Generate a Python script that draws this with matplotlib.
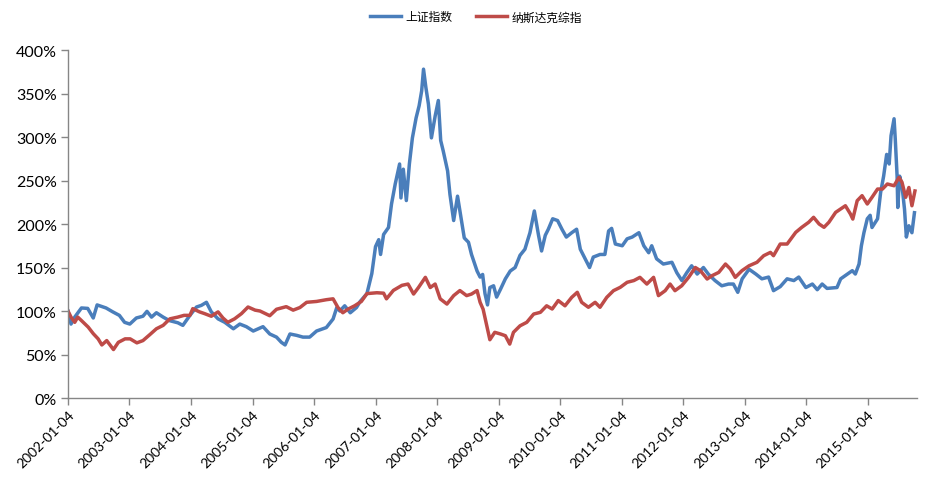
import matplotlib
matplotlib.use('Agg')
import matplotlib.pyplot as plt
from matplotlib.ticker import FuncFormatter, MultipleLocator
import pandas as pd

plt.rcParams['font.family'] = ['Lato', 'Noto Sans CJK SC', 'DejaVu Sans']

# 上证指数, values in % of 2002-01-04 level
sse_dates = [
    '2002-01-04', '2002-01-22', '2002-02-13', '2002-03-25', '2002-05-01', '2002-06-03',
    '2002-06-26', '2002-08-18', '2002-09-27', '2002-11-05', '2002-12-06', '2003-01-06',
    '2003-02-14', '2003-03-25', '2003-04-18', '2003-05-15', '2003-06-13', '2003-07-23',
    '2003-08-29', '2003-10-18', '2003-11-17', '2003-12-29', '2004-02-06', '2004-03-06',
    '2004-04-05', '2004-05-04', '2004-06-13', '2004-07-23', '2004-09-12', '2004-10-20',
    '2004-11-28', '2005-01-08', '2005-03-07', '2005-04-16', '2005-05-26', '2005-06-24',
    '2005-07-16', '2005-08-14', '2005-09-23', '2005-10-30', '2005-12-09', '2006-01-19',
    '2006-03-18', '2006-04-27', '2006-05-19', '2006-06-06', '2006-07-05', '2006-08-07',
    '2006-09-13', '2006-10-05', '2006-11-14', '2006-12-13', '2007-01-04', '2007-01-23',
    '2007-02-03', '2007-02-21', '2007-03-22', '2007-04-09', '2007-05-01', '2007-05-27',
    '2007-06-04', '2007-06-18', '2007-07-06', '2007-07-24', '2007-08-11', '2007-09-02',
    '2007-09-20', '2007-10-05', '2007-10-16', '2007-10-30', '2007-11-14', '2007-12-02',
    '2007-12-24', '2008-01-12', '2008-01-26', '2008-02-10', '2008-03-07', '2008-03-21',
    '2008-04-12', '2008-05-05', '2008-05-19', '2008-06-14', '2008-07-09', '2008-07-27',
    '2008-08-29', '2008-09-16', '2008-10-01', '2008-10-15', '2008-10-30', '2008-11-13',
    '2008-12-05', '2008-12-23', '2009-01-15', '2009-02-13', '2009-03-14', '2009-04-12',
    '2009-05-11', '2009-06-09', '2009-07-09', '2009-08-04', '2009-08-29', '2009-09-16',
    '2009-10-08', '2009-10-26', '2009-11-21', '2009-12-20', '2010-01-15', '2010-02-10',
    '2010-03-14', '2010-04-12', '2010-05-04', '2010-06-02', '2010-06-28', '2010-07-20',
    '2010-08-29', '2010-09-27', '2010-10-19', '2010-11-06', '2010-11-28', '2011-01-08',
    '2011-02-06', '2011-03-08', '2011-04-17', '2011-05-16', '2011-06-14', '2011-07-02',
    '2011-07-31', '2011-09-09', '2011-10-30', '2011-11-28', '2011-12-28', '2012-01-26',
    '2012-02-24', '2012-03-28', '2012-05-04', '2012-06-02', '2012-07-12', '2012-08-21',
    '2012-09-30', '2012-10-29', '2012-11-24', '2012-12-20', '2013-01-30', '2013-03-11',
    '2013-04-16', '2013-05-26', '2013-06-24', '2013-08-03', '2013-09-13', '2013-10-23',
    '2013-11-21', '2014-01-02', '2014-02-10', '2014-03-11', '2014-04-09', '2014-05-08',
    '2014-07-06', '2014-07-28', '2014-09-06', '2014-10-05', '2014-10-23', '2014-11-14',
    '2014-11-28', '2014-12-13', '2015-01-02', '2015-01-19', '2015-01-30', '2015-03-04',
    '2015-03-22', '2015-04-09', '2015-04-27', '2015-05-12', '2015-05-23', '2015-06-10',
    '2015-06-17', '2015-06-28', '2015-07-02', '2015-07-13', '2015-07-27', '2015-08-11',
    '2015-08-22', '2015-09-06', '2015-09-24', '2015-10-09',
]
sse_vals = [
    100, 85, 93, 103.5, 103, 92,
    107, 103.5, 99, 95, 87, 85,
    92, 94, 99.6, 93, 98, 93,
    89, 86.5, 83.5, 95, 104.6, 106.5,
    110, 99, 91, 87, 79.6, 85,
    82, 77, 82, 73.6, 70, 64,
    61, 73.6, 72, 70, 70, 77,
    81, 90.8, 104, 100, 106, 98,
    104, 111, 120, 143, 174, 182,
    165, 188, 196, 223, 246, 269,
    230, 263, 227, 269, 299, 322,
    336, 353, 378, 357, 338, 299,
    324, 342, 296, 284, 261, 234,
    204, 232, 215, 184, 179, 165,
    146, 139, 142, 120, 107, 127,
    129, 116, 125, 137, 146, 150,
    164, 171, 190, 215, 187, 169,
    187, 194, 206, 204, 194, 185,
    190, 194, 171, 160, 150, 162,
    165, 165, 192, 195, 177, 175,
    183, 185, 190, 175, 167, 175,
    160, 154, 156, 144, 135, 144,
    152, 142.5, 150, 142.5, 135, 129,
    131, 131, 121.5, 137, 148, 142.5,
    137, 139, 123.4, 128, 137, 135,
    139, 127, 131, 124.5, 131, 126,
    127, 137, 142.5, 146.4, 142.5, 154,
    175, 190, 206, 210, 196, 206,
    236, 255, 280, 269, 301.5, 321,
    298, 255, 219, 255, 244, 217,
    185, 198, 190, 213,
]

# 纳斯达克综指, values in % of 2002-01-04 level
nas_dates = [
    '2002-01-04', '2002-01-22', '2002-02-13', '2002-03-03', '2002-03-25', '2002-05-04',
    '2002-06-03', '2002-07-02', '2002-07-24', '2002-08-22', '2002-10-01', '2002-10-30',
    '2002-12-09', '2003-01-08', '2003-02-17', '2003-03-25', '2003-05-04', '2003-06-13',
    '2003-07-23', '2003-09-01', '2003-10-18', '2003-11-24', '2003-12-29', '2004-01-15',
    '2004-02-24', '2004-03-25', '2004-05-04', '2004-06-13', '2004-07-12', '2004-08-10',
    '2004-09-19', '2004-10-30', '2004-12-08', '2005-01-19', '2005-02-17', '2005-04-16',
    '2005-05-26', '2005-07-23', '2005-09-02', '2005-10-12', '2005-11-21', '2006-01-19',
    '2006-03-18', '2006-04-27', '2006-05-26', '2006-06-24', '2006-07-23', '2006-09-02',
    '2006-10-12', '2006-11-14', '2007-01-12', '2007-02-21', '2007-03-10', '2007-04-20',
    '2007-06-10', '2007-07-16', '2007-08-18', '2007-09-16', '2007-10-27', '2007-11-25',
    '2007-12-24', '2008-01-23', '2008-03-03', '2008-04-12', '2008-05-19', '2008-06-28',
    '2008-07-27', '2008-08-29', '2008-09-16', '2008-10-04', '2008-10-26', '2008-11-13',
    '2008-12-12', '2009-01-15', '2009-02-13', '2009-03-11', '2009-04-02', '2009-05-11',
    '2009-06-20', '2009-07-31', '2009-09-09', '2009-10-16', '2009-11-18', '2009-12-24',
    '2010-02-02', '2010-03-14', '2010-04-16', '2010-05-12', '2010-06-21', '2010-07-31',
    '2010-08-29', '2010-10-08', '2010-11-17', '2010-12-27', '2011-02-06', '2011-03-18',
    '2011-04-23', '2011-06-03', '2011-07-13', '2011-08-11', '2011-09-20', '2011-10-19',
    '2011-11-17', '2011-12-27', '2012-02-06', '2012-03-17', '2012-04-16', '2012-05-26',
    '2012-06-24', '2012-08-03', '2012-09-12', '2012-10-11', '2012-11-09', '2012-12-19',
    '2013-01-30', '2013-03-18', '2013-04-27', '2013-06-06', '2013-06-24', '2013-08-03',
    '2013-09-13', '2013-10-05', '2013-11-03', '2013-12-09', '2014-01-19', '2014-02-17',
    '2014-03-22', '2014-04-20', '2014-05-19', '2014-06-28', '2014-07-27', '2014-08-25',
    '2014-09-24', '2014-10-08', '2014-11-03', '2014-12-02', '2015-01-02', '2015-01-30',
    '2015-03-04', '2015-04-02', '2015-05-01', '2015-06-10', '2015-07-09', '2015-07-27',
    '2015-08-18', '2015-09-06', '2015-09-24', '2015-10-12',
]
nas_vals = [
    100, 93, 87, 93, 89, 81.5,
    74, 68, 61, 66, 55.7, 64,
    68, 68, 63.4, 66, 72.7, 79.6,
    83.5, 91, 93, 95, 95, 102.7,
    99, 97, 94, 99, 92, 87,
    91, 97, 104.6, 101, 100, 94.6,
    102, 105, 101, 104, 110, 111,
    113, 114, 104, 98, 102, 106,
    111, 120, 121, 120.5, 114, 123.7,
    129.5, 131, 119.5, 127, 138.7, 127,
    131, 114, 108, 117.7, 123.5, 117.7,
    119.5, 123.5, 110, 102, 83, 67,
    75.5, 73.6, 71.6, 62, 75.5, 83,
    87, 96.5, 98.5, 106, 102.3, 112,
    106, 115.7, 121.5, 110, 104.3, 110,
    104.3, 115.7, 123.4, 127.2, 133, 135,
    138.7, 131, 138.7, 117.7, 123.4, 131,
    123.4, 129, 138.7, 150, 146.4, 136.8,
    140.6, 144.4, 154, 148.3, 138.7, 146.4,
    152, 156, 163.6, 167.4, 163.6, 177,
    177, 182.8, 190.4, 196.2, 202, 207.7,
    200, 196.2, 202, 213.4, 217.2, 221,
    211.5, 205.7, 226.8, 232.6, 223, 230.7,
    240.2, 240.2, 246, 244, 253.6, 248,
    230.7, 242, 221, 238,
]

tick_labels = ['%d-01-04' % y for y in range(2002, 2016)]

blue = '#4A7EBB'
red = '#BE4B48'
axis_gray = '#868686'

fig = plt.figure(figsize=(9.43, 4.85), dpi=100)
ax = fig.add_axes([0.0721, 0.1773, 0.9003, 0.7175])

ax.plot(pd.to_datetime(sse_dates), sse_vals, color=blue, lw=2.5, label='上证指数')
ax.plot(pd.to_datetime(nas_dates), nas_vals, color=red, lw=2.5, label='纳斯达克综指')

ax.set_ylim(0, 400)
ax.yaxis.set_major_locator(MultipleLocator(50))
ax.yaxis.set_major_formatter(FuncFormatter(lambda v, p: '%d%%' % v))
ax.set_xlim(pd.Timestamp('2002-01-04'), pd.Timestamp('2015-10-24'))
ax.set_xticks(pd.to_datetime(tick_labels))
ax.set_xticklabels(tick_labels, rotation=45, ha='right', rotation_mode='anchor')

for s in ['top', 'right']:
    ax.spines[s].set_visible(False)
for s in ['left', 'bottom']:
    ax.spines[s].set_color(axis_gray)
    ax.spines[s].set_linewidth(1.0)
ax.tick_params(axis='both', colors=axis_gray, direction='out', length=5, width=1.0,
               labelcolor='black')
ax.tick_params(axis='y', labelsize=11.5, pad=3)
ax.tick_params(axis='x', labelsize=10, pad=2)

fig.legend(loc='center', bbox_to_anchor=(0.505, 0.963), ncol=2, frameon=False,
           prop={'family': ['Noto Sans CJK SC', 'DejaVu Sans'], 'size': 8.5},
           handlelength=2.6, columnspacing=2.0, handletextpad=0.4)

fig.savefig('out.png', dpi=100)
